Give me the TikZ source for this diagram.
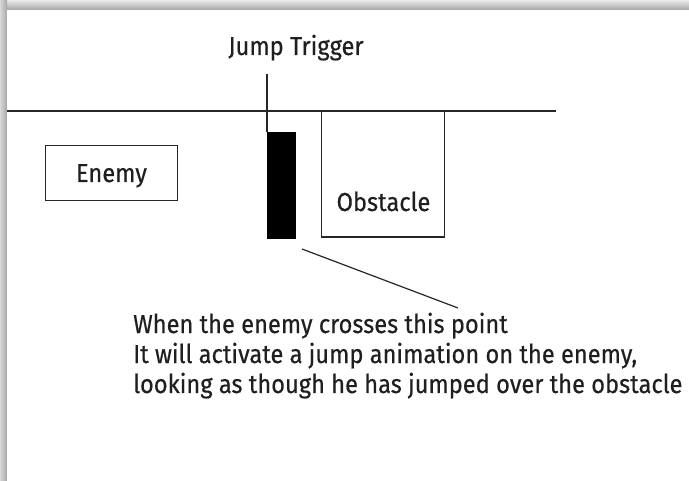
\documentclass[tikz,border=0pt]{standalone}
\usepackage{fontspec}
\setmainfont{Fira Sans}[FakeStretch=0.91,FakeBold=0.4]
\begin{document}
\begin{tikzpicture}[x=1pt,y=-1pt,
  line/.style={draw=black!85,line width=1.2pt},
  lbl/.style={font=\fontsize{26}{30}\selectfont,text=black!88,inner sep=0pt},
  boxnode/.style={line,fill=white,inner sep=0pt,anchor=north west}]
\useasboundingbox (0,0) rectangle (689,481);
% shadow frame
\shade[top color=black!8,bottom color=black!35] (0,0) rectangle (689,10);
\shade[left color=black!15,right color=black!35] (0,0) rectangle (7,481);
\fill[white] (7,10) rectangle (689,481);
% ground line
\coordinate (g1) at (7,111);
\coordinate (g2) at (556,111);
\draw[line] (g1) -- (g2);
% nodes
\node[lbl,anchor=base] (jt) at (296,55) {Jump Trigger};
\node[boxnode,minimum width=131.5pt,minimum height=55pt] (enemy) at (45,145) {};
\node[lbl,anchor=base] at (111.5,182) {Enemy};
\node[draw=black,fill=black,line width=0.8pt,inner sep=0pt,anchor=north west,minimum width=27.5pt,minimum height=106pt] (trig) at (267,132.5) {};
\node[boxnode,minimum width=123pt,minimum height=125.5pt] (obst) at (321,111) {};
\node[lbl,anchor=base] at (383.5,211) {Obstacle};
\node[lbl,align=left,anchor=base west] (note) at (133,393) {When the enemy crosses this point\\It will activate a jump animation on the enemy,\\looking as though he has jumped over the obstacle};
% connectors
\coordinate (jtb) at (267,74);
\draw[line] (jtb) -- (trig.north west);
\coordinate (l1) at (302,249);
\coordinate (l2) at (458,308);
\draw[line] (l1) -- (l2);
\end{tikzpicture}
\end{document}
